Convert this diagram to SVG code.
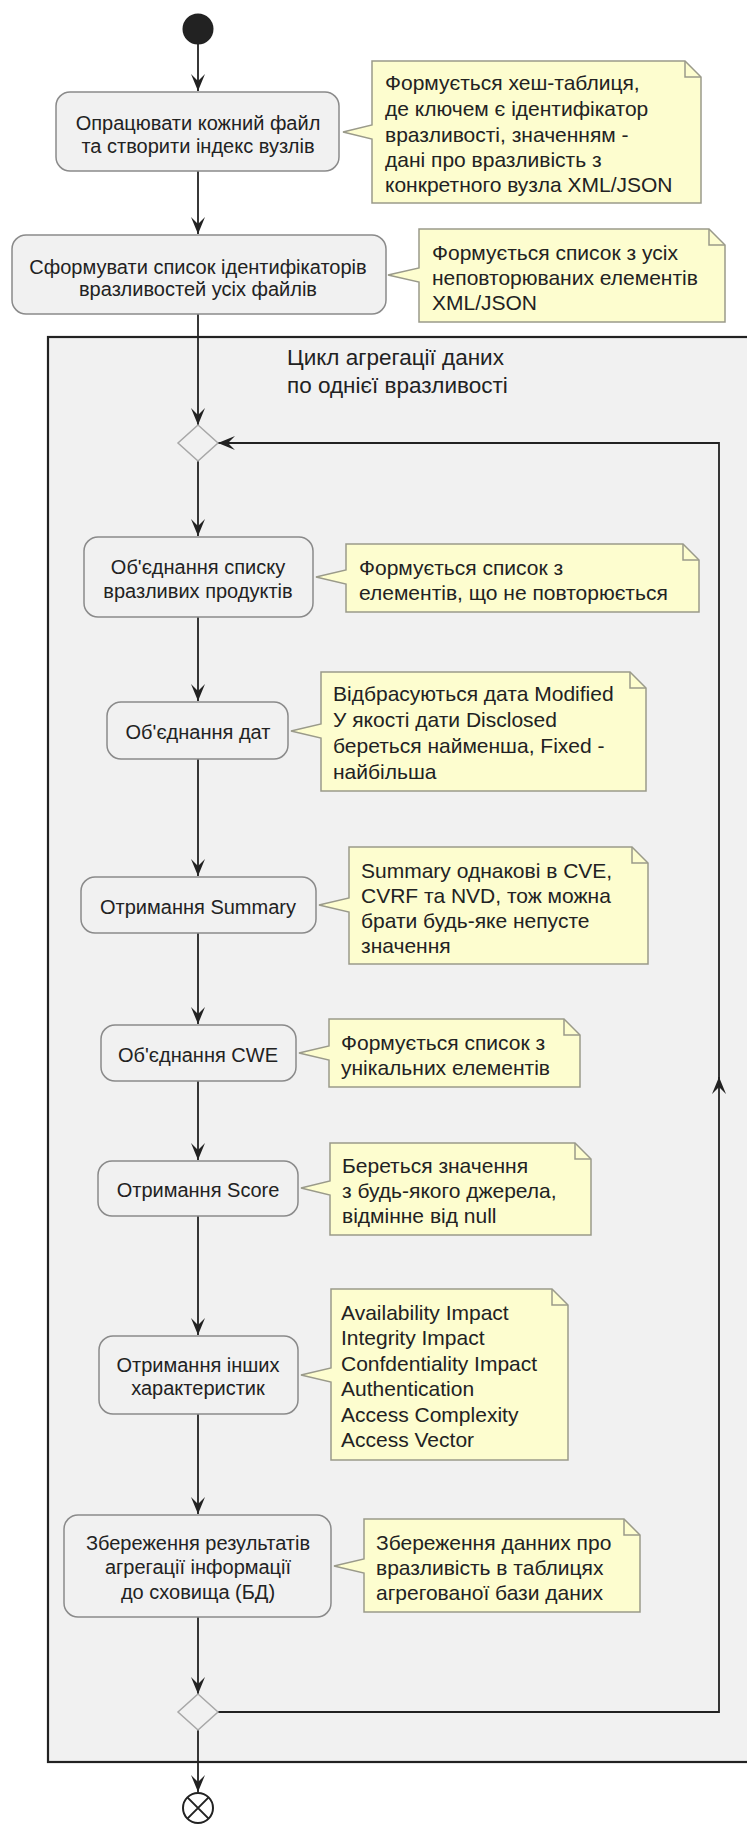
<svg xmlns="http://www.w3.org/2000/svg" width="747" height="1825" viewBox="0 0 747 1825">
<defs>
<marker id="ah" markerUnits="userSpaceOnUse" markerWidth="20" markerHeight="20" viewBox="-18 -9 20 18" refX="0" refY="0" orient="auto">
<path d="M0,0 L-17,-7 L-10,0 L-17,7 Z" fill="#222"/>
</marker>
</defs>
<style>
.box{fill:#f1f1f1;stroke:#8a8a8a;stroke-width:1.5}
.note{fill:#fdfdcf;stroke:#9a9a8a;stroke-width:1.5}
.fold{fill:none;stroke:#9a9a8a;stroke-width:1.5}
.t{font-family:"Liberation Sans",Arial,sans-serif;font-size:20px;fill:#222;text-anchor:middle}
.n{font-family:"Liberation Sans",Arial,sans-serif;font-size:21px;fill:#222}
.title{font-family:"Liberation Sans",Arial,sans-serif;font-size:22.5px;fill:#222}
.c{fill:none;stroke:#222;stroke-width:1.8}
.dia{fill:#f1f1f1;stroke:#a8a8a8;stroke-width:1.5}
</style>
<rect width="747" height="1825" fill="#ffffff"/>
<g id="loop-frame">
<rect x="48" y="337" width="720" height="1425" fill="#f1f1f1" stroke="#222" stroke-width="2.2"/>
<text class="title" x="287" y="365">Цикл агрегації даних</text>
<text class="title" x="287" y="393">по однієї вразливості</text>
</g>
<g id="connectors">
<path class="c" d="M198,44 V91" marker-end="url(#ah)"/>
<path class="c" d="M198,171 V234" marker-end="url(#ah)"/>
<path class="c" d="M198,314 V425" marker-end="url(#ah)"/>
<path class="c" d="M198,461 V536" marker-end="url(#ah)"/>
<path class="c" d="M198,617 V701" marker-end="url(#ah)"/>
<path class="c" d="M198,759 V876" marker-end="url(#ah)"/>
<path class="c" d="M198,933 V1024" marker-end="url(#ah)"/>
<path class="c" d="M198,1081 V1160" marker-end="url(#ah)"/>
<path class="c" d="M198,1216 V1335" marker-end="url(#ah)"/>
<path class="c" d="M198,1414 V1514" marker-end="url(#ah)"/>
<path class="c" d="M198,1617 V1694" marker-end="url(#ah)"/>
<path class="c" d="M218,1712 H719 V1077" marker-end="url(#ah)"/>
<path class="c" d="M719,1080 V443 H218" marker-end="url(#ah)"/>
<path class="c" d="M198,1730 V1792" marker-end="url(#ah)"/>
</g>
<g id="start">
<circle cx="198" cy="29" r="15.5" fill="#222"/>
</g>
<g id="act1">
<rect class="box" x="56" y="92" width="283" height="79" rx="14"/>
<text class="t" x="198" y="130">Опрацювати кожний файл</text>
<text class="t" x="198" y="153">та створити індекс вузлів</text>
</g>
<g id="note1">
<path class="note" d="M372,61 H685 L701,77 V203 H372 V139 L343,132 L372,125 Z"/>
<path class="fold" d="M685,61 V77 H701"/>
<text class="n" x="385" y="90">Формується хеш-таблиця,</text>
<text class="n" x="385" y="116">де ключем є ідентифікатор</text>
<text class="n" x="385" y="142">вразливості, значенням -</text>
<text class="n" x="385" y="167">дані про вразливість з</text>
<text class="n" x="385" y="192">конкретного вузла XML/JSON</text>
</g>
<g id="act2">
<rect class="box" x="12" y="235" width="374" height="79" rx="14"/>
<text class="t" x="198" y="274">Сформувати список ідентифікаторів</text>
<text class="t" x="198" y="296">вразливостей усіх файлів</text>
</g>
<g id="note2">
<path class="note" d="M419,229 H709 L725,245 V322 H419 V282 L388,275 L419,268 Z"/>
<path class="fold" d="M709,229 V245 H725"/>
<text class="n" x="432" y="260">Формується список з усіх</text>
<text class="n" x="432" y="285">неповторюваних елементів</text>
<text class="n" x="432" y="310">XML/JSON</text>
</g>
<g id="merge1">
<path class="dia" d="M198,425 L218,443 L198,461 L178,443 Z"/>
</g>
<g id="act3">
<rect class="box" x="84" y="537" width="229" height="80" rx="14"/>
<text class="t" x="198" y="574">Об'єднання списку</text>
<text class="t" x="198" y="598">вразливих продуктів</text>
</g>
<g id="note3">
<path class="note" d="M346,544 H683 L699,560 V612 H346 V584 L316,577 L346,570 Z"/>
<path class="fold" d="M683,544 V560 H699"/>
<text class="n" x="359" y="575">Формується список з</text>
<text class="n" x="359" y="600">елементів, що не повторюється</text>
</g>
<g id="act4">
<rect class="box" x="107" y="702" width="181" height="57" rx="14"/>
<text class="t" x="198" y="739">Об'єднання дат</text>
</g>
<g id="note4">
<path class="note" d="M321,672 H630 L646,688 V791 H321 V738 L291,731 L321,724 Z"/>
<path class="fold" d="M630,672 V688 H646"/>
<text class="n" x="333" y="701">Відбрасуються дата Modified</text>
<text class="n" x="333" y="727">У якості дати Disclosed</text>
<text class="n" x="333" y="753">береться найменша, Fixed -</text>
<text class="n" x="333" y="779">найбільша</text>
</g>
<g id="act5">
<rect class="box" x="81" y="877" width="235" height="56" rx="14"/>
<text class="t" x="198" y="914">Отримання Summary</text>
</g>
<g id="note5">
<path class="note" d="M349,847 H632 L648,863 V964 H349 V912 L319,905 L349,898 Z"/>
<path class="fold" d="M632,847 V863 H648"/>
<text class="n" x="361" y="878">Summary однакові в CVE,</text>
<text class="n" x="361" y="903">CVRF та NVD, тож можна</text>
<text class="n" x="361" y="928">брати будь-яке непусте</text>
<text class="n" x="361" y="953">значення</text>
</g>
<g id="act6">
<rect class="box" x="101" y="1025" width="195" height="56" rx="14"/>
<text class="t" x="198" y="1062">Об'єднання CWE</text>
</g>
<g id="note6">
<path class="note" d="M329,1019 H564 L580,1035 V1087 H329 V1060 L299,1053 L329,1046 Z"/>
<path class="fold" d="M564,1019 V1035 H580"/>
<text class="n" x="341" y="1050">Формується список з</text>
<text class="n" x="341" y="1075">унікальних елементів</text>
</g>
<g id="act7">
<rect class="box" x="98" y="1161" width="200" height="55" rx="14"/>
<text class="t" x="198" y="1197">Отримання Score</text>
</g>
<g id="note7">
<path class="note" d="M330,1143 H575 L591,1159 V1235 H330 V1195 L301,1188 L330,1181 Z"/>
<path class="fold" d="M575,1143 V1159 H591"/>
<text class="n" x="342" y="1173">Береться значення</text>
<text class="n" x="342" y="1198">з будь-якого джерела,</text>
<text class="n" x="342" y="1223">відмінне від null</text>
</g>
<g id="act8">
<rect class="box" x="99" y="1336" width="199" height="78" rx="14"/>
<text class="t" x="198" y="1372">Отримання інших</text>
<text class="t" x="198" y="1395">характеристик</text>
</g>
<g id="note8">
<path class="note" d="M331,1289 H552 L568,1305 V1460 H331 V1382 L301,1375 L331,1368 Z"/>
<path class="fold" d="M552,1289 V1305 H568"/>
<text class="n" x="341" y="1320">Availability Impact</text>
<text class="n" x="341" y="1345">Integrity Impact</text>
<text class="n" x="341" y="1371">Confdentiality Impact</text>
<text class="n" x="341" y="1396">Authentication</text>
<text class="n" x="341" y="1422">Access Complexity</text>
<text class="n" x="341" y="1447">Access Vector</text>
</g>
<g id="act9">
<rect class="box" x="64" y="1515" width="267" height="102" rx="14"/>
<text class="t" x="198" y="1550">Збереження результатів</text>
<text class="t" x="198" y="1574">агрегації інформації</text>
<text class="t" x="198" y="1599">до сховища (БД)</text>
</g>
<g id="note9">
<path class="note" d="M364,1519 H624 L640,1535 V1612 H364 V1573 L334,1566 L364,1559 Z"/>
<path class="fold" d="M624,1519 V1535 H640"/>
<text class="n" x="376" y="1550">Збереження данних про</text>
<text class="n" x="376" y="1575">вразливість в таблицях</text>
<text class="n" x="376" y="1600">агрегованої бази даних</text>
</g>
<g id="merge2">
<path class="dia" d="M198,1694 L218,1712 L198,1730 L178,1712 Z"/>
</g>
<g id="end">
<circle cx="198" cy="1808" r="15" fill="#ffffff" stroke="#222" stroke-width="2"/>
<path d="M187.4,1797.4 L208.6,1818.6 M208.6,1797.4 L187.4,1818.6" stroke="#222" stroke-width="2"/>
</g>
</svg>
